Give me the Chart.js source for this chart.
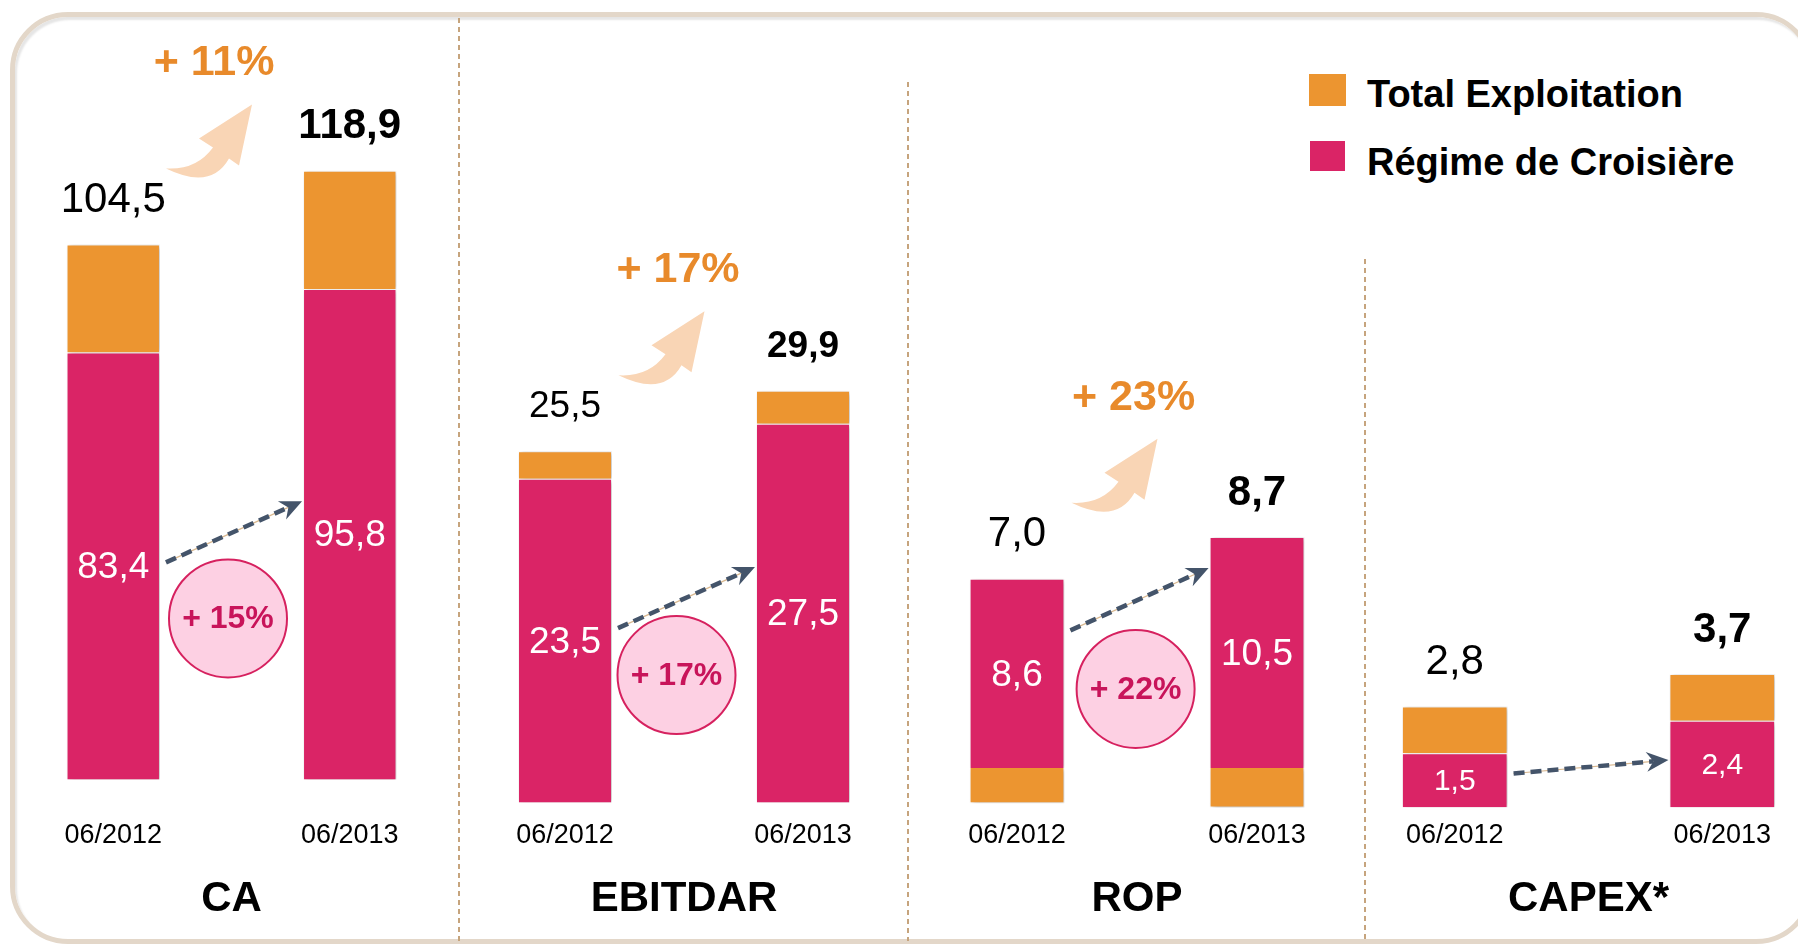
<!DOCTYPE html>
<html>
<head>
<meta charset="utf-8">
<script src="https://cdn.jsdelivr.net/npm/chart.js@4"></script>
<style>
html,body{margin:0;padding:0;width:1798px;height:946px;overflow:hidden;background:#fff;font-family:"Liberation Sans",Arial,sans-serif;}
.frame{position:absolute;left:10px;top:12px;width:1794px;height:922px;border:5px solid #e3d7c9;border-radius:58px;box-shadow:inset 2px 3px 2px rgba(0,0,0,0.10);}
.sep{position:absolute;width:2px;background:repeating-linear-gradient(to bottom,#c6a47d 0 5px,transparent 5px 9px);}
.pc{position:absolute;top:0;height:946px;}
.lg-box{position:absolute;}
.lg-txt{position:absolute;font-weight:bold;font-size:38px;line-height:40px;color:#000;white-space:nowrap;}
</style>
</head>
<body>
<div class="frame"></div>
<div class="sep" style="left:458px;top:18px;height:923px"></div>
<div class="sep" style="left:907px;top:82px;height:859px"></div>
<div class="sep" style="left:1364px;top:259px;height:682px"></div>
<div id="legend"></div>
<div class="pc" id="p0"><canvas id="c0"></canvas></div>
<div class="pc" id="p1"><canvas id="c1"></canvas></div>
<div class="pc" id="p2"><canvas id="c2"></canvas></div>
<div class="pc" id="p3"><canvas id="c3"></canvas></div>
<script>
// ---------- DATA ----------
const periods = ['06/2012', '06/2013'];
const panelNames = ['CA', 'EBITDAR', 'ROP', 'CAPEX*'];
const seriesNames = ['Total Exploitation', 'Régime de Croisière'];

const totalCA = [104.5, 118.9];
const regimeCA = [83.4, 95.8];
const exploitCA = [21.1, 23.1];

const totalEBITDAR = [25.5, 29.9];
const regimeEBITDAR = [23.5, 27.5];
const exploitEBITDAR = [2.0, 2.4];

const totalROP = [7.0, 8.7];
const regimeROP = [8.6, 10.5];
const exploitROP = [-1.6, -1.8];

const totalCAPEX = [2.8, 3.7];
const regimeCAPEX = [1.5, 2.4];
const exploitCAPEX = [1.3, 1.3];

const growthTotal = [11, 17, 23, null];
const growthRegime = [15, 17, 22, null];

// ---------- STYLE / LAYOUT ----------
const FAM = '"Liberation Sans", Arial, sans-serif';
const PINK = '#da2466', ORANGE = '#ec9530', ORANGE_TXT = '#e88a2b', PEACH = '#f9d5b5';
const ARROW = '#44546a';
Chart.defaults.font.family = FAM;

const panelBoxes = [{left:-5,width:473},{left:446,width:476},{left:897,width:480},{left:1321,width:535}];
const zeroLine = [779.5, 802.4, 768, 807.2];
const pxPerUnit = [5.12, 13.77, 22, 36];
const AREA_BOTTOM = 812, XAXIS_H = 114, CANVAS_H = 946;
const topFont = [42, 37, 42, 42];
const innerFont = [37, 37, 37, 30];
const arrowDy = [[-3.6,-33],[-12.5,-46],[-43,-84.5],[-6.7,-4]];
const circleOffset = [[-3.5,56],[-7.5,47],[-1.4,58.5]];
const growthDx = [-17.5,-6,-3.4];

const panels = [
  {total: totalCA, regime: regimeCA, exploit: exploitCA},
  {total: totalEBITDAR, regime: regimeEBITDAR, exploit: exploitEBITDAR},
  {total: totalROP, regime: regimeROP, exploit: exploitROP},
  {total: totalCAPEX, regime: regimeCAPEX, exploit: exploitCAPEX}
];

// legend (HTML, from series names)
(function(){
  const lg = document.getElementById('legend');
  const items = [
    {name: seriesNames[0], color: ORANGE, box:[1309,74,37,32], ty:74},
    {name: seriesNames[1], color: PINK, box:[1310,141,35,30], ty:142}
  ];
  items.forEach(it => {
    const b = document.createElement('div');
    b.className = 'lg-box';
    b.style.cssText = `left:${it.box[0]}px;top:${it.box[1]}px;width:${it.box[2]}px;height:${it.box[3]}px;background:${it.color}`;
    lg.appendChild(b);
    const t = document.createElement('div');
    t.className = 'lg-txt';
    t.style.cssText = `left:1367px;top:${it.ty}px`;
    t.textContent = it.name;
    lg.appendChild(t);
  });
})();

const fmt = v => v.toFixed(1).replace('.', ',');

function txt(c, s, x, y, font, color){
  c.save(); c.font = font; c.fillStyle = color; c.textAlign = 'center'; c.textBaseline = 'middle';
  c.fillText(s, x, y); c.restore();
}

function dashedArrow(c, x1, y1, x2, y2){
  const ang = Math.atan2(y2 - y1, x2 - x1);
  const ux = Math.cos(ang), uy = Math.sin(ang), nx = -uy, ny = ux;
  const L = 22, W = 10, N = 7;
  const lx = x2 - ux * (L - N), ly = y2 - uy * (L - N);
  c.save();
  c.strokeStyle = '#d9b88f'; c.lineWidth = 1.2;
  c.beginPath(); c.moveTo(x1, y1); c.lineTo(lx, ly); c.stroke();
  c.strokeStyle = ARROW; c.lineWidth = 4.5; c.setLineDash([11, 6]);
  c.beginPath(); c.moveTo(x1, y1); c.lineTo(lx, ly); c.stroke();
  c.setLineDash([]);
  c.fillStyle = ARROW;
  c.beginPath();
  c.moveTo(x2, y2);
  c.lineTo(x2 - ux * L + nx * W, y2 - uy * L + ny * W);
  c.lineTo(lx, ly);
  c.lineTo(x2 - ux * L - nx * W, y2 - uy * L - ny * W);
  c.closePath(); c.fill();
  c.restore();
}

function curvedArrow(c, x, y){
  c.save(); c.translate(x, y); c.fillStyle = PEACH;
  c.beginPath();
  c.moveTo(0, 0);
  c.quadraticCurveTo(30, 2, 47, -21);
  c.lineTo(33, -30);
  c.lineTo(86, -64);
  c.lineTo(73, -3);
  c.lineTo(63, -10);
  c.quadraticCurveTo(45, 22, 0, 0);
  c.closePath(); c.fill();
  c.restore();
}

function makeAnnot(i){
  const p = panels[i];
  return {
    id: 'annot' + i,
    beforeDatasetsDraw(chart){
      const c = chart.ctx; c.save();
      c.shadowColor = 'rgba(0,0,0,0.28)'; c.shadowBlur = 5; c.shadowOffsetX = 2; c.shadowOffsetY = 1;
    },
    afterDatasetsDraw(chart){
      const c = chart.ctx; c.restore();
      const m0 = chart.getDatasetMeta(0).data, m1 = chart.getDatasetMeta(1).data;
      const bars = [0, 1].map(j => {
        const a = m0[j], b = m1[j];
        return {x: a.x, w: a.width, top: Math.min(a.y, a.base, b.y, b.base),
                pinkTop: Math.min(a.y, a.base), pinkBot: Math.max(a.y, a.base)};
      });
      // total labels
      bars.forEach((b, j) => {
        txt(c, fmt(p.total[j]), b.x, b.top - 44, (j ? 'bold ' : '') + topFont[i] + 'px ' + FAM, '#000');
      });
      // inner regime labels
      bars.forEach((b, j) => {
        txt(c, fmt(p.regime[j]), b.x, (b.pinkTop + b.pinkBot) / 2 + 2, innerFont[i] + 'px ' + FAM, '#fff');
      });
      const mid = (bars[0].x + bars[1].x) / 2;
      const sx = bars[0].x + bars[0].w / 2 + 6;
      const sy = (bars[0].pinkTop + bars[0].pinkBot) / 2 + arrowDy[i][0];
      const ex = bars[1].x - bars[1].w / 2 - 1;
      const ey = (bars[1].pinkTop + bars[1].pinkBot) / 2 + arrowDy[i][1];
      // regime growth circle
      if (growthRegime[i] != null) {
        const cx = mid + circleOffset[i][0], cy = sy + circleOffset[i][1];
        c.save();
        c.beginPath(); c.arc(cx, cy, 59, 0, Math.PI * 2);
        c.fillStyle = '#fdd0e3'; c.fill();
        c.lineWidth = 2; c.strokeStyle = '#d6215f'; c.stroke();
        c.restore();
        txt(c, '+ ' + growthRegime[i] + '%', cx, cy + 1, 'bold 32px ' + FAM, '#c8145a');
      }
      dashedArrow(c, sx, sy, ex, ey);
      // total growth
      if (growthTotal[i] != null) {
        const ty = bars[0].top - 44 - 137;
        txt(c, '+ ' + growthTotal[i] + '%', mid + growthDx[i], ty, 'bold 43px ' + FAM, ORANGE_TXT);
        curvedArrow(c, mid - 65.5, ty + 105);
      }
    }
  };
}

panels.forEach((p, i) => {
  const box = document.getElementById('p' + i);
  box.style.left = panelBoxes[i].left + 'px';
  box.style.width = panelBoxes[i].width + 'px';
  const yMax = zeroLine[i] / pxPerUnit[i];
  const yMin = -(AREA_BOTTOM - zeroLine[i]) / pxPerUnit[i];
  new Chart(document.getElementById('c' + i), {
    type: 'bar',
    data: {
      labels: periods,
      datasets: [
        {label: seriesNames[1], data: p.regime, backgroundColor: PINK, borderColor: 'rgba(255,255,255,0.9)', borderWidth: 1},
        {label: seriesNames[0], data: p.exploit, backgroundColor: ORANGE, borderColor: 'rgba(255,255,255,0.9)', borderWidth: 1}
      ]
    },
    options: {
      responsive: true, maintainAspectRatio: false, animation: false, devicePixelRatio: 1,
      layout: {padding: {top: 0, bottom: CANVAS_H - AREA_BOTTOM - XAXIS_H, left: 0, right: 0}},
      plugins: {legend: {display: false}, tooltip: {enabled: false}},
      datasets: {bar: {barPercentage: 0.395, categoryPercentage: 1}},
      scales: {
        x: {
          stacked: true,
          grid: {display: false, drawTicks: false},
          border: {display: false},
          ticks: {font: {size: 27}, color: '#000', padding: 7, maxRotation: 0, autoSkip: false},
          title: {display: true, text: panelNames[i], color: '#000', font: {size: 42, weight: 'bold'}, padding: {top: 0, bottom: 1}},
          afterFit: s => { s.height = XAXIS_H; }
        },
        y: {stacked: true, display: false, min: yMin, max: yMax}
      }
    },
    plugins: [makeAnnot(i)]
  });
});
</script>
</body>
</html>
